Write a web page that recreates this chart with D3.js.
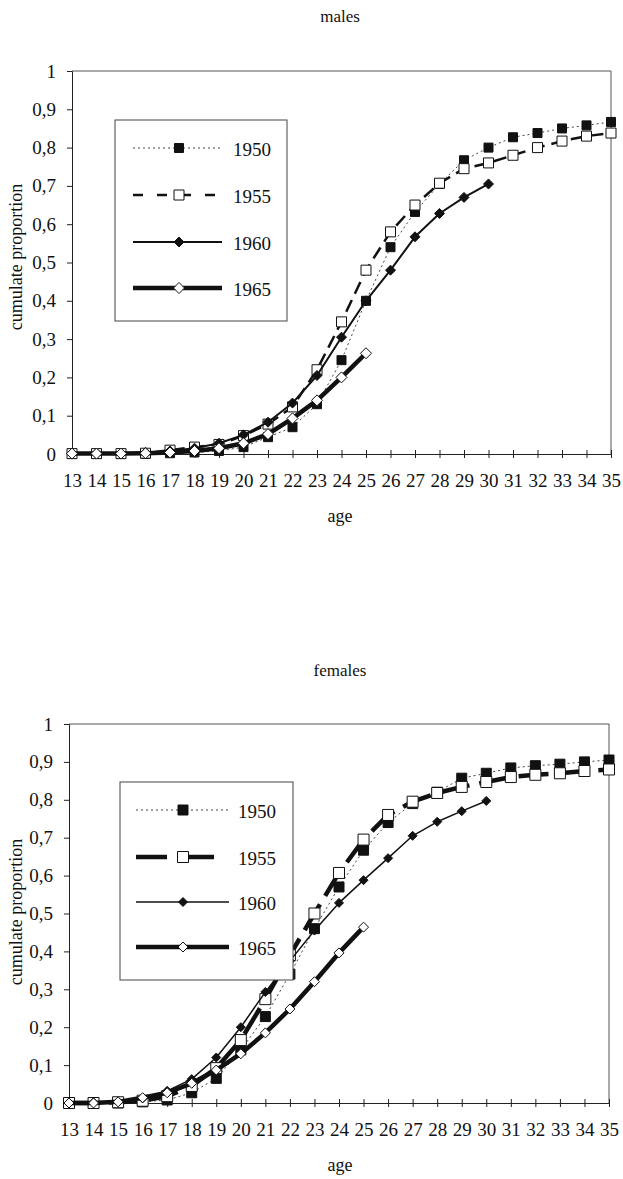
<!DOCTYPE html>
<html>
<head>
<meta charset="utf-8">
<script src="https://cdn.jsdelivr.net/npm/d3@7"></script>
<style>
  html, body { margin: 0; padding: 0; background: #fff; }
  svg { display: block; }
  text { font-family: "Liberation Serif", "Times New Roman", serif; fill: #111; }
</style>
</head>
<body>
<svg id="chart" width="623" height="1179"></svg>
<script>
// Ages on the horizontal axis
const ages = [13, 14, 15, 16, 17, 18, 19, 20, 21, 22, 23, 24, 25, 26, 27, 28, 29, 30, 31, 32, 33, 34, 35];
const yTicks = [0, 0.1, 0.2, 0.3, 0.4, 0.5, 0.6, 0.7, 0.8, 0.9, 1];
const yTickLabels = ["0", "0,1", "0,2", "0,3", "0,4", "0,5", "0,6", "0,7", "0,8", "0,9", "1"];
const cohorts = ["1950", "1955", "1960", "1965"];

// Cumulate proportion, males (1960 cohort observed to age 30, 1965 to age 25)
const males1950 = [0, 0, 0, 0, 0.002, 0.004, 0.008, 0.018, 0.044, 0.07, 0.13, 0.245, 0.40, 0.54, 0.632, 0.705, 0.767, 0.80, 0.827, 0.838, 0.85, 0.858, 0.867];
const males1955 = [0.001, 0.001, 0.001, 0.002, 0.01, 0.018, 0.025, 0.048, 0.078, 0.123, 0.22, 0.345, 0.48, 0.58, 0.65, 0.707, 0.745, 0.76, 0.78, 0.80, 0.817, 0.83, 0.838];
const males1960 = [0.002, 0.002, 0.002, 0.004, 0.008, 0.015, 0.028, 0.05, 0.083, 0.133, 0.205, 0.305, 0.40, 0.48, 0.567, 0.628, 0.67, 0.705];
const males1965 = [0.001, 0.001, 0.001, 0.002, 0.004, 0.008, 0.015, 0.028, 0.052, 0.093, 0.14, 0.20, 0.263];

// Cumulate proportion, females
const females1950 = [0, 0, 0, 0.003, 0.008, 0.027, 0.065, 0.14, 0.228, 0.34, 0.46, 0.57, 0.667, 0.74, 0.79, 0.82, 0.857, 0.87, 0.884, 0.89, 0.894, 0.90, 0.905];
const females1955 = [0, 0, 0.002, 0.006, 0.018, 0.045, 0.092, 0.166, 0.274, 0.39, 0.50, 0.607, 0.695, 0.76, 0.795, 0.818, 0.834, 0.847, 0.86, 0.866, 0.87, 0.876, 0.88];
const females1960 = [0.001, 0.002, 0.004, 0.012, 0.032, 0.063, 0.12, 0.20, 0.293, 0.375, 0.455, 0.528, 0.588, 0.646, 0.705, 0.742, 0.77, 0.797];
const females1965 = [0, 0, 0.003, 0.014, 0.027, 0.052, 0.087, 0.13, 0.185, 0.248, 0.32, 0.396, 0.464];

const svg = d3.select("#chart");

// marker shapes: square and 45°-rotated square
function markerPath(shape, s) {
  const r = s / 2;
  if (shape === "square") return `M${-r},${-r}H${r}V${r}H${-r}Z`;
  return `M0,${-r}L${r},0L0,${r}L${-r},0Z`;
}

function drawPanel(cfg) {
  const g = svg.append("g");
  const x = d3.scaleLinear().domain([13, 35]).range([cfg.left, cfg.right]);
  const y = d3.scaleLinear().domain([0, 1]).range([cfg.bottom, cfg.top]);

  // title
  g.append("text").attr("x", 340).attr("y", cfg.titleY)
    .attr("text-anchor", "middle").attr("dominant-baseline", "central")
    .style("font-size", "17px").text(cfg.title);

  // top and right frame of the plot area
  g.append("path")
    .attr("d", `M${cfg.left},${cfg.top}H${cfg.right}V${cfg.bottom}`)
    .attr("fill", "none").attr("stroke", "#555").attr("stroke-width", 1);

  // y axis
  const yAxis = g.append("g").attr("transform", `translate(${cfg.left},0)`)
    .call(d3.axisLeft(y).tickValues(yTicks).tickSize(5).tickPadding(11)
      .tickFormat((d, i) => yTickLabels[i]));
  yAxis.select(".domain").attr("stroke", "#222");
  yAxis.selectAll(".tick line").attr("stroke", "#222");
  yAxis.selectAll(".tick text").style("font-size", "19px")
    .style("font-family", "Liberation Serif, serif").attr("fill", "#111");

  // x axis, tick marks crossing the axis line
  const xAxis = g.append("g").attr("transform", `translate(0,${cfg.bottom})`)
    .call(d3.axisBottom(x).tickValues(ages).tickSize(4).tickPadding(16)
      .tickFormat(d3.format("d")));
  xAxis.select(".domain").attr("stroke", "#222");
  xAxis.selectAll(".tick line").attr("y1", -4).attr("y2", 4).attr("stroke", "#222");
  xAxis.selectAll(".tick text").style("font-size", "19px")
    .style("font-family", "Liberation Serif, serif").attr("fill", "#111");

  // axis titles
  g.append("text").attr("x", 340).attr("y", cfg.bottom + 62)
    .attr("text-anchor", "middle").attr("dominant-baseline", "central")
    .style("font-size", "18px").text("age");
  g.append("text")
    .attr("transform", `translate(16,${cfg.yLabelY}) rotate(-90)`)
    .attr("text-anchor", "middle").attr("dominant-baseline", "central")
    .style("font-size", "18px").text("cumulate proportion");

  const line = d3.line().x((d, i) => x(ages[i])).y(d => y(d));

  // series, drawn in cohort order
  cfg.series.forEach(s => {
    const sg = g.append("g");
    sg.append("path").datum(s.values).attr("d", line)
      .attr("fill", "none").attr("stroke", s.stroke).attr("stroke-width", s.width)
      .attr("stroke-dasharray", s.dash || null).attr("stroke-linejoin", "round");
    sg.selectAll("path.mk").data(s.values).join("path").attr("class", "mk")
      .attr("transform", (d, i) => `translate(${x(ages[i])},${y(d)})`)
      .attr("d", markerPath(s.shape, s.size))
      .attr("fill", s.fill).attr("stroke", "#111").attr("stroke-width", 1);
  });

  // legend box (opaque)
  const L = cfg.legend;
  const lg = g.append("g");
  lg.append("rect").attr("x", L.x0).attr("y", L.y0)
    .attr("width", L.x1 - L.x0).attr("height", L.y1 - L.y0)
    .attr("fill", "#fff").attr("stroke", "#444").attr("stroke-width", 1);
  cfg.series.forEach((s, i) => {
    const ry = L.rows[i];
    lg.append("line").attr("x1", L.lx0).attr("x2", L.lx1).attr("y1", ry).attr("y2", ry)
      .attr("stroke", s.stroke).attr("stroke-width", s.width)
      .attr("stroke-dasharray", s.legendDash || s.dash || null);
    lg.append("path").attr("transform", `translate(${L.mx},${ry})`)
      .attr("d", markerPath(s.shape, s.size))
      .attr("fill", s.fill).attr("stroke", "#111").attr("stroke-width", 1);
    lg.append("text").attr("x", L.tx).attr("y", ry + 1)
      .attr("dominant-baseline", "central").style("font-size", "19px")
      .text(cohorts[i]);
  });
}

drawPanel({
  title: "males", titleY: 16,
  left: 72, right: 611, top: 71, bottom: 454, yLabelY: 257,
  legend: { x0: 115, x1: 287, y0: 120, y1: 321, lx0: 133, lx1: 222, mx: 179, tx: 233,
            rows: [148, 195, 242, 288] },
  series: [
    { values: males1950, stroke: "#444", width: 1, dash: "2,3", shape: "square", size: 9, fill: "#111" },
    { values: males1955, stroke: "#111", width: 2.5, dash: "13,7", legendDash: "10,14", shape: "square", size: 10, fill: "#fff" },
    { values: males1960, stroke: "#111", width: 2, shape: "diamond", size: 10, fill: "#111" },
    { values: males1965, stroke: "#111", width: 4.5, shape: "diamond", size: 11, fill: "#fff" }
  ]
});

drawPanel({
  title: "females", titleY: 670,
  left: 69, right: 609, top: 724, bottom: 1103, yLabelY: 912,
  legend: { x0: 120, x1: 293, y0: 782, y1: 980, lx0: 136, lx1: 229, mx: 183, tx: 238,
            rows: [810, 857, 902, 947] },
  series: [
    { values: females1950, stroke: "#444", width: 1, dash: "2,3", shape: "square", size: 10, fill: "#111" },
    { values: females1955, stroke: "#111", width: 4.5, dash: "30,10", legendDash: "31,16", shape: "square", size: 11, fill: "#fff" },
    { values: females1960, stroke: "#111", width: 1.5, shape: "diamond", size: 9, fill: "#111" },
    { values: females1965, stroke: "#111", width: 4.5, shape: "diamond", size: 10, fill: "#fff" }
  ]
});
</script>
</body>
</html>
